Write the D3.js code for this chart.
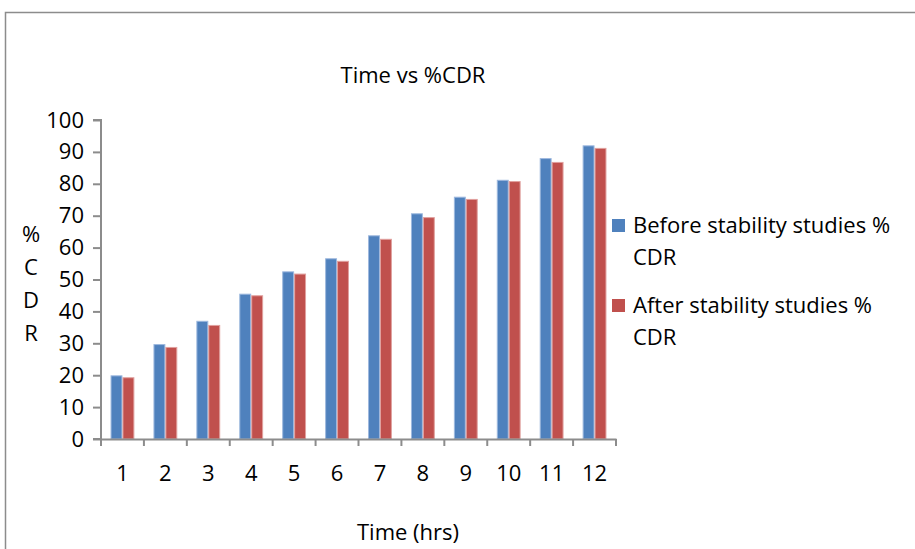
<!DOCTYPE html>
<html>
<head>
<meta charset="utf-8">
<script src="https://cdnjs.cloudflare.com/ajax/libs/d3/7.8.5/d3.min.js"></script>
<style>
  body { margin: 0; background: #fff; }
  svg { display: block; font-family: "Open Sans", Lato, sans-serif; }
  text { fill: #000; }
</style>
</head>
<body>
<div class="svgContainer"></div>
<script>
let hours = ["1", "2", "3", "4", "5", "6", "7", "8", "9", "10", "11", "12"];
let before = [19.8, 29.6, 36.9, 45.4, 52.4, 56.5, 63.7, 70.6, 75.8, 81.1, 87.9, 91.9];
let after = [19.2, 28.7, 35.6, 44.9, 51.7, 55.7, 62.6, 69.4, 75.1, 80.7, 86.7, 91.1];
let seriesNames = ["Before stability studies %", "After stability studies %"];
let yTicks = [0, 10, 20, 30, 40, 50, 60, 70, 80, 90, 100];

let width = 915,
  height = 549,
  plotLeft = 101,
  plotRight = 616,
  plotTop = 120,
  plotBottom = 439;

let colors = ["#4F81BD", "#C0504D"];
let strokes = ["#9DB8DE", "#E0A09E"];

let svg = d3
  .select(".svgContainer")
  .append("svg")
  .attr("width", width)
  .attr("height", height);

// chart frame
svg
  .append("path")
  .attr("d", "M5.5," + height + "V12.5H" + width)
  .attr("fill", "none")
  .attr("stroke", "#8c8c8c")
  .attr("stroke-width", 1.5);

svg
  .append("text")
  .attr("x", 413)
  .attr("y", 83)
  .attr("text-anchor", "middle")
  .style("font-size", "22px")
  .text("Time vs %CDR");

let xScale = d3
  .scaleBand()
  .domain(hours)
  .range([plotLeft, plotRight]);

let inner = d3
  .scaleBand()
  .domain([0, 1])
  .range([0, xScale.bandwidth()])
  .paddingOuter(0.8)
  .paddingInner(0);

let yScale = d3
  .scaleLinear()
  .domain([0, 100])
  .range([plotBottom, plotTop]);

// bars
let groups = svg
  .selectAll(".group")
  .data(hours)
  .enter()
  .append("g")
  .attr("class", "group")
  .attr("transform", d => "translate(" + xScale(d) + ",0)");

groups
  .selectAll("rect")
  .data((d, i) => [before[i], after[i]])
  .enter()
  .append("rect")
  .attr("x", (d, j) => inner(j) + 0.5)
  .attr("y", d => yScale(d))
  .attr("width", inner.bandwidth() - 1)
  .attr("height", d => plotBottom - yScale(d))
  .attr("fill", (d, j) => colors[j])
  .attr("stroke", (d, j) => strokes[j])
  .attr("stroke-width", 1);

// y axis
let yAxis = d3
  .axisLeft(yScale)
  .tickValues(yTicks)
  .tickSize(8)
  .tickPadding(9);

let yAxisGroup = svg
  .append("g")
  .attr("transform", "translate(" + plotLeft + ",0)")
  .call(yAxis);

yAxisGroup.select(".domain").attr("d", "M-8," + plotTop + "H0V" + plotBottom + "H-8");

// x axis, ticks between categories
let xAxis = d3
  .axisBottom(xScale)
  .tickSize(0)
  .tickPadding(26);

let xAxisGroup = svg
  .append("g")
  .attr("transform", "translate(0," + plotBottom + ")")
  .call(xAxis);

xAxisGroup
  .selectAll(".sep")
  .data(hours.concat(["end"]))
  .enter()
  .append("line")
  .attr("class", "sep")
  .attr("x1", (d, i) => plotLeft + i * xScale.step())
  .attr("x2", (d, i) => plotLeft + i * xScale.step())
  .attr("y1", 0)
  .attr("y2", 7);

svg
  .selectAll(".domain, .tick line, .sep")
  .attr("stroke", "#8c8c8c")
  .attr("stroke-width", 2);

svg
  .selectAll(".tick text")
  .style("font-size", "22px")
  .style("font-family", "'Open Sans', sans-serif")
  .attr("fill", "#000");

// axis titles
svg
  .append("text")
  .attr("x", 408)
  .attr("y", 540)
  .attr("text-anchor", "middle")
  .style("font-size", "22px")
  .text("Time (hrs)");

svg
  .selectAll(".ylabel")
  .data(["%", "C", "D", "R"])
  .enter()
  .append("text")
  .attr("class", "ylabel")
  .attr("x", 31)
  .attr("y", (d, i) => 242 + i * 33)
  .attr("text-anchor", "middle")
  .style("font-size", "22px")
  .text(d => d);

// legend
let legend = svg
  .selectAll(".legend")
  .data(seriesNames)
  .enter()
  .append("g")
  .attr("class", "legend")
  .attr("transform", (d, i) => "translate(612," + (219 + i * 80) + ")");

legend
  .append("rect")
  .attr("width", 13)
  .attr("height", 13)
  .attr("fill", (d, i) => colors[i]);

legend
  .append("text")
  .attr("x", 21)
  .attr("y", 14)
  .style("font-size", "22px")
  .text(d => d);

legend
  .append("text")
  .attr("x", 21)
  .attr("y", 46)
  .style("font-size", "22px")
  .text("CDR");
</script>
</body>
</html>
